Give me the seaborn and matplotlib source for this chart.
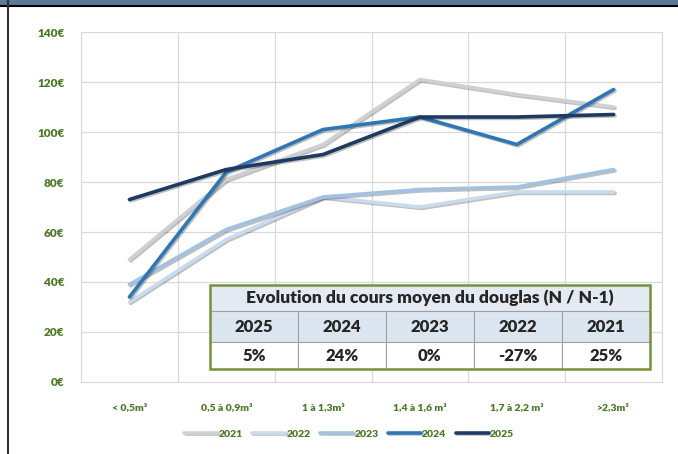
import matplotlib
matplotlib.use("Agg")
import matplotlib.pyplot as plt
import matplotlib.patheffects as pe
from matplotlib.patches import Rectangle
from matplotlib.lines import Line2D
import seaborn as sns
import pandas as pd

# données
volumes = ["< 0,5m³", "0,5 à 0,9m³", "1 à 1,3m³", "1,4 à 1,6 m³", "1,7 à 2,2 m³", ">2,3m³"]
annees = ["2021", "2022", "2023", "2024", "2025"]
prix_2021 = [49, 81, 95, 121, 115, 110]
prix_2022 = [32, 57, 74, 70, 76, 76]
prix_2023 = [39, 61, 74, 77, 78, 85]
prix_2024 = [34, 84, 101, 106, 95, 117]
prix_2025 = [73, 85, 91, 106, 106, 107]
y_ticks = [0, 20, 40, 60, 80, 100, 120, 140]

evol_annees = ["2025", "2024", "2023", "2022", "2021"]
evol_valeurs = ["5%", "24%", "0%", "-27%", "25%"]
titre_tableau = "Evolution du cours moyen du douglas (N / N-1)"

couleurs = {"2021": "#cdd1d5", "2022": "#c9dcef", "2023": "#a3c2e2",
            "2024": "#2f76b5", "2025": "#1f3a60"}
vert = "#4a7a25"

df = pd.DataFrame({
    "Volume": volumes * 5,
    "Annee": [a for a in annees for _ in volumes],
    "Prix": prix_2021 + prix_2022 + prix_2023 + prix_2024 + prix_2025,
})

sns.set_style("white")
plt.rcParams["font.family"] = ["Lato", "DejaVu Sans"]

fig = plt.figure(figsize=(6.78, 4.54), dpi=100)
ax = fig.add_axes([0.1195, 0.1586, 0.857, 0.7709])

sns.lineplot(data=df, x="Volume", y="Prix", hue="Annee", palette=couleurs,
             sort=False, linewidth=2.6, ax=ax)
for ln in ax.lines:
    ln.set_path_effects([pe.SimpleLineShadow(offset=(1, -1), alpha=0.25), pe.Normal()])
    ln.set_solid_capstyle("round")

ax.set_xlim(-0.5, 5.5)
ax.set_ylim(0, 140)
ax.set_yticks(y_ticks)
ax.set_yticklabels([f"{v}€" for v in y_ticks])
ax.set_xticks(range(len(volumes)))
ax.set_xticks([i + 0.5 for i in range(-1, len(volumes))], minor=True)
ax.set_xticklabels(volumes)
ax.grid(axis="y", color="#d9d9d9", linewidth=0.9)
ax.grid(axis="x", which="minor", color="#d9d9d9", linewidth=0.9)
ax.grid(axis="x", which="major", visible=False)
for s in ax.spines.values():
    s.set_color("#d9d9d9")
ax.tick_params(axis="both", which="both", length=0)
ax.tick_params(axis="y", pad=12, labelsize=8.5, labelcolor=vert)
ax.tick_params(axis="x", pad=15, labelsize=7.5, labelcolor=vert)
for t in ax.get_xticklabels() + ax.get_yticklabels():
    t.set_fontweight("heavy")
ax.set_xlabel("")
ax.set_ylabel("")

# légende en bas
handles, labels = ax.get_legend_handles_labels()
ax.get_legend().remove()
leg = fig.legend(handles, labels, loc="center", bbox_to_anchor=(0.515, 0.044), ncol=5,
                 frameon=False, handlelength=3.2, columnspacing=0.9, handletextpad=0.1,
                 prop={"size": 7.5, "weight": "heavy"})
for t in leg.get_texts():
    t.set_color(vert)
for h in leg.get_lines():
    h.set_linewidth(2.6)

# tableau d'évolution
x0, x1 = 0.222, 0.979
y_h, y_a, y_v, y_b = 0.277, 0.203, 0.114, 0.037
w = (x1 - x0) / len(evol_annees)
ax.add_patch(Rectangle((x0, y_a), x1 - x0, y_h - y_a, transform=ax.transAxes,
                       facecolor="#e4eaf2", edgecolor="#a0a0a0", lw=0.8, zorder=5))
ax.text((x0 + x1) / 2, (y_h + y_a) / 2, titre_tableau, transform=ax.transAxes,
        ha="center", va="center", fontsize=12.5, fontweight="heavy", color="#262626", zorder=6)
for i, (a, v) in enumerate(zip(evol_annees, evol_valeurs)):
    cx = x0 + i * w
    ax.add_patch(Rectangle((cx, y_v), w, y_a - y_v, transform=ax.transAxes,
                           facecolor="#dce6f1", edgecolor="#a0a0a0", lw=0.8, zorder=5))
    ax.add_patch(Rectangle((cx, y_b), w, y_v - y_b, transform=ax.transAxes,
                           facecolor="white", edgecolor="#a0a0a0", lw=0.8, zorder=5))
    ax.text(cx + w / 2, (y_a + y_v) / 2, a, transform=ax.transAxes, ha="center", va="center",
            fontsize=12, fontweight="heavy", color="#262626", zorder=6)
    ax.text(cx + w / 2, (y_v + y_b) / 2, v, transform=ax.transAxes, ha="center", va="center",
            fontsize=12, fontweight="heavy", color="#262626", zorder=6)
ax.add_patch(Rectangle((x0, y_b), x1 - x0, y_h - y_b, transform=ax.transAxes,
                       facecolor="none", edgecolor="#76923c", lw=1.8, zorder=7))

# bandeau et bordure
fig.patches.append(Rectangle((0, 1 - 5 / 454), 1, 5 / 454, transform=fig.transFigure,
                             facecolor="#5a7a99", edgecolor="none"))
fig.lines.append(Line2D([0, 1], [1 - 6 / 454, 1 - 6 / 454], transform=fig.transFigure,
                        color="black", lw=1.5))
fig.lines.append(Line2D([8 / 678, 8 / 678], [0, 1], transform=fig.transFigure,
                        color="#333333", lw=1.5))

fig.savefig("out.png", dpi=100)
